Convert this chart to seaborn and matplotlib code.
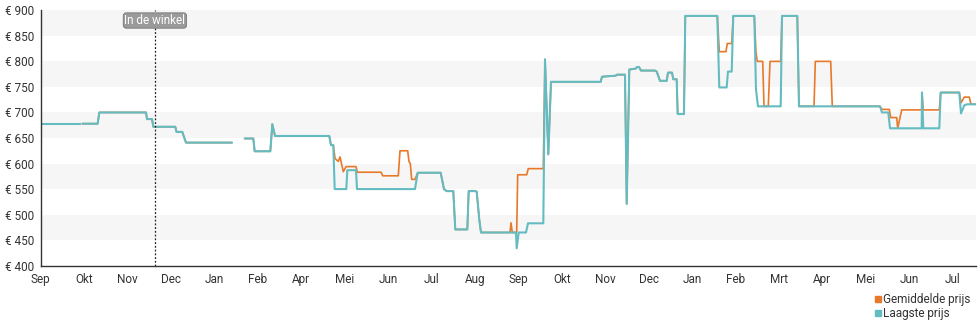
import numpy as np
import pandas as pd
import matplotlib
matplotlib.use("Agg")
import matplotlib.pyplot as plt
from matplotlib.lines import Line2D
import seaborn as sns

# Month labels along the time axis (one tick per label, evenly spaced)
month_labels = ["Sep", "Okt", "Nov", "Dec", "Jan", "Feb", "Apr", "Mei", "Jun", "Jul",
                "Aug", "Sep", "Okt", "Nov", "Dec", "Jan", "Feb", "Mrt", "Apr", "Mei",
                "Jun", "Jul"]
price_ticks = [400, 450, 500, 550, 600, 650, 700, 750, 800, 850, 900]

# Time position in months from the first tick; NaN marks a gap in the history
lowest_t = [0.000, 0.905, np.nan, 0.958, 1.312, 1.349, 2.425, 2.448, 2.563, 2.593,
            3.099, 3.127, 3.260, 3.300, 3.346, 4.405, np.nan, 4.697, 4.895, 4.927,
            5.287, 5.333, 5.395, 6.645, 6.684, 6.737, 6.769, 7.037, 7.060, 7.260,
            7.283, 8.618, 8.681, 9.210, 9.286, 9.348, 9.500, 9.546, 9.823, 9.855,
            10.016, 10.039, 10.099, 10.138, 10.944, 10.960, 11.006, 11.174, 11.220, 11.573,
            11.612, 11.688, 11.750, 12.894, 12.924, 13.240, 13.270, 13.454, 13.493, 13.553,
            13.707, 13.730, 13.776, 13.822, 14.145, 14.184, 14.260, 14.414, 14.444, 14.536,
            14.566, 14.644, 14.667, 14.812, 14.842, 15.579, 15.625, 15.795, 15.825, 15.911,
            15.947, 16.431, 16.470, 16.516, 17.039, 17.069, 17.421, 17.460, 19.325, 19.371,
            19.516, 19.556, 20.286, 20.292, 20.322, 20.691, 20.723, 21.151, 21.190, 21.266,
            21.329, 21.529]
lowest_price = [678, 678, np.nan, 678, 678, 700, 700, 687, 687, 672,
                672, 662, 662, 652, 641, 641, np.nan, 649, 649, 624,
                624, 677, 654, 654, 636, 636, 550, 550, 587, 587,
                550, 550, 582, 582, 550, 546, 546, 471, 471, 546,
                546, 545, 490, 465, 465, 434, 465, 465, 483, 483,
                804, 618, 760, 760, 770, 772, 774, 774, 521, 784,
                786, 789, 789, 782, 782, 780, 762, 762, 778, 778,
                765, 765, 697, 697, 889, 889, 749, 749, 780, 780,
                889, 889, 745, 712, 712, 889, 889, 712, 712, 700,
                700, 669, 669, 739, 669, 669, 739, 739, 698, 714,
                716, 716]

average_t = [0.000, 0.905, np.nan, 0.958, 1.312, 1.349, 2.425, 2.448, 2.563, 2.593,
             3.099, 3.127, 3.260, 3.300, 3.346, 4.405, np.nan, 4.697, 4.895, 4.927,
             5.287, 5.333, 5.395, 6.645, 6.684, 6.737, 6.777, 6.852, 6.892, 6.968,
             7.030, 7.260, 7.290, 7.836, 7.875, 8.234, 8.273, 8.450, 8.480, 8.510,
             8.542, 8.618, 8.681, 9.210, 9.286, 9.348, 9.500, 9.546, 9.823, 9.855,
             10.016, 10.039, 10.099, 10.138, 10.806, 10.829, 10.859, 10.960, 10.983, 11.190,
             11.227, 11.573, 11.612, 11.688, 11.750, 12.894, 12.924, 13.240, 13.270, 13.454,
             13.493, 13.553, 13.707, 13.730, 13.776, 13.822, 14.145, 14.184, 14.260, 14.414,
             14.444, 14.536, 14.566, 14.644, 14.667, 14.812, 14.842, 15.579, 15.625, 15.779,
             15.809, 15.911, 15.947, 16.431, 16.470, 16.500, 16.624, 16.655, 16.753, 16.793,
             17.039, 17.069, 17.421, 17.460, 17.806, 17.836, 18.190, 18.227, 19.325, 19.371,
             19.540, 19.572, 19.710, 19.733, 19.825, 20.286, 20.292, 20.322, 20.691, 20.723,
             21.151, 21.190, 21.266, 21.382, 21.421, 21.529]
average_price = [678, 678, np.nan, 678, 678, 700, 700, 687, 687, 672,
                 672, 662, 662, 652, 641, 641, np.nan, 649, 649, 624,
                 624, 677, 654, 654, 636, 636, 610, 604, 613, 584,
                 594, 594, 583, 583, 576, 576, 625, 625, 604, 600,
                 569, 569, 582, 582, 550, 546, 546, 471, 471, 546,
                 546, 545, 490, 465, 465, 484, 465, 465, 578, 578,
                 590, 590, 804, 618, 760, 760, 770, 772, 774, 774,
                 521, 784, 786, 789, 789, 782, 782, 780, 762, 762,
                 778, 778, 765, 765, 697, 697, 889, 889, 819, 819,
                 835, 835, 889, 889, 817, 800, 800, 712, 712, 800,
                 800, 889, 889, 712, 712, 800, 800, 712, 712, 706,
                 706, 690, 690, 669, 705, 705, 739, 705, 705, 739,
                 739, 719, 730, 730, 716, 716]

store_t = 2.63
store_label = "In de winkel"

avg_name = "Gemiddelde prijs"
low_name = "Laagste prijs"
avg_color = "#e8782a"
low_color = "#63bcc1"


def to_frame(t, p, name):
    df = pd.DataFrame({"t": t, "price": p})
    df["segment"] = df["price"].isna().cumsum()
    df = df.dropna()
    df["series"] = name
    return df


avg_df = to_frame(average_t, average_price, avg_name)
low_df = to_frame(lowest_t, lowest_price, low_name)

sns.set_theme(style="white")
plt.rcParams["font.family"] = ["Roboto", "DejaVu Sans"]

fig = plt.figure(figsize=(9.8, 3.25), dpi=100)
ax = fig.add_axes([40.7 / 980, 1 - 265.7 / 325, (975.7 - 40.7) / 980, (265.7 - 10.3) / 325])

# alternating horizontal bands
for lo in range(450, 900, 100):
    ax.axhspan(lo, lo + 50, color="#f6f6f6", zorder=0, lw=0)

# average price underneath, lowest price drawn over it
sns.lineplot(data=avg_df, x="t", y="price", units="segment", estimator=None, sort=False,
             color=avg_color, linewidth=1.2, legend=False, ax=ax)
sns.lineplot(data=low_df, x="t", y="price", units="segment", estimator=None, sort=False,
             color=low_color, linewidth=1.5, legend=False, ax=ax)

ax.set_xlim(0, 21.529)
ax.set_ylim(400, 900)
ax.set_xticks(range(len(month_labels)))
ax.set_xticklabels(month_labels)
ax.set_yticks(price_ticks)
ax.set_yticklabels([f"€ {v}" for v in price_ticks])
ax.set_xlabel("")
ax.set_ylabel("")

for side in ("top", "right"):
    ax.spines[side].set_visible(False)
for side in ("left", "bottom"):
    ax.spines[side].set_color("#333333")
    ax.spines[side].set_linewidth(1.0)
ax.tick_params(axis="both", direction="out", length=4, width=1, color="#333333",
               labelsize=8.5, labelcolor="#333333", pad=1)

# store launch marker
ax.axvline(store_t, ymin=0, ymax=1, color="#222222", lw=0.9, ls=(0, (1.5, 1.5)), zorder=3)
ax.text(store_t, 880, store_label, ha="center", va="center", fontsize=8.5, color="white",
        zorder=4, bbox=dict(boxstyle="round,pad=0.1,rounding_size=0.25",
                            fc="#9a9a9a", ec="#777777", lw=0.6))

handles = [Line2D([], [], ls="none", marker="s", markersize=5, color=avg_color),
           Line2D([], [], ls="none", marker="s", markersize=5, color=low_color)]
fig.legend(handles, [avg_name, low_name], loc="upper left",
           bbox_to_anchor=(869 / 980, 1 - 287 / 325), frameon=False, fontsize=8.5,
           handlelength=0.6, handletextpad=0.1, labelspacing=0.1, borderpad=0,
           labelcolor="#333333")

fig.savefig("out.png", dpi=100)
